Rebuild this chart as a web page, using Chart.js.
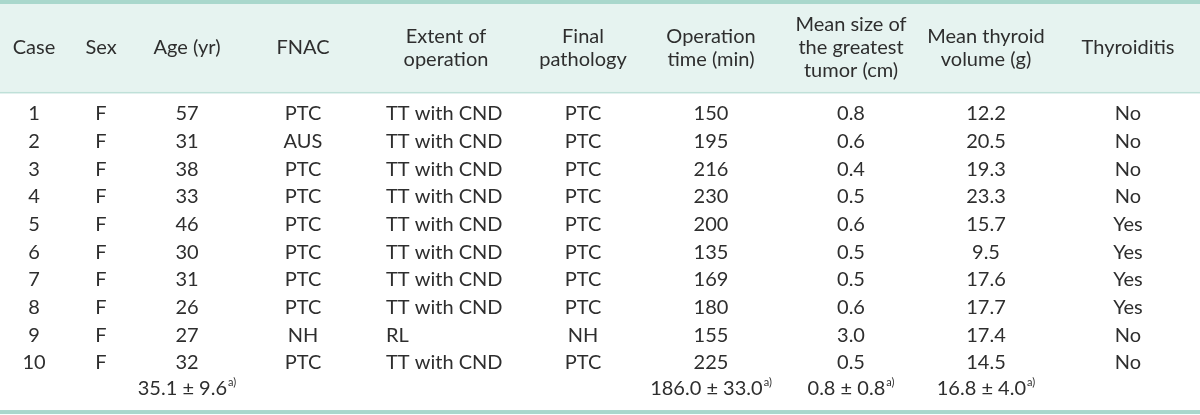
<!DOCTYPE html>
<html>
<head>
<meta charset="utf-8">
<script src="https://cdn.jsdelivr.net/npm/chart.js@4"></script>
<style>
  html, body { margin: 0; padding: 0; background: #fff; }
  canvas { display: block; }
</style>
</head>
<body>
<canvas id="myChart" width="1200" height="415"></canvas>
<script>
// table data
const headers = [
  ['Case'], ['Sex'], ['Age (yr)'], ['FNAC'], ['Extent of', 'operation'],
  ['Final', 'pathology'], ['Operation', 'time (min)'],
  ['Mean size of', 'the greatest', 'tumor (cm)'], ['Mean thyroid', 'volume (g)'], ['Thyroiditis']
]
const cases = ['1', '2', '3', '4', '5', '6', '7', '8', '9', '10']
const sex = ['F', 'F', 'F', 'F', 'F', 'F', 'F', 'F', 'F', 'F']
const age = [57, 31, 38, 33, 46, 30, 31, 26, 27, 32]
const fnac = ['PTC', 'AUS', 'PTC', 'PTC', 'PTC', 'PTC', 'PTC', 'PTC', 'NH', 'PTC']
const extent = ['TT with CND', 'TT with CND', 'TT with CND', 'TT with CND', 'TT with CND',
  'TT with CND', 'TT with CND', 'TT with CND', 'RL', 'TT with CND']
const finalPathology = ['PTC', 'PTC', 'PTC', 'PTC', 'PTC', 'PTC', 'PTC', 'PTC', 'NH', 'PTC']
const opTime = [150, 195, 216, 230, 200, 135, 169, 180, 155, 225]
const tumorSize = [0.8, 0.6, 0.4, 0.5, 0.6, 0.5, 0.5, 0.6, 3.0, 0.5]
const thyroidVolume = [12.2, 20.5, 19.3, 23.3, 15.7, 9.5, 17.6, 17.7, 17.4, 14.5]
const thyroiditis = ['No', 'No', 'No', 'No', 'Yes', 'Yes', 'Yes', 'Yes', 'No', 'No']
// mean ± SD row (null = empty cell)
const summary = [null, null, '35.1 ± 9.6', null, null, null, '186.0 ± 33.0', '0.8 ± 0.8', '16.8 ± 4.0', null]
const summaryNote = 'a)'

// layout (scale units)
const colX = [34, 101, 187, 303, 446, 583, 711, 851, 986, 1128]
const extentLeft = 386
const headerMid = -1.384
const headerStep = 0.83
const headerBottom = 0.24
const summaryRow = 10.94
const bottomLine = 11.7

const fmt1 = v => v.toFixed(1)
const columns = [
  cases, sex, age.map(String), fnac, extent, finalPathology,
  opTime.map(String), tumorSize.map(fmt1), thyroidVolume.map(fmt1), thyroiditis
]

const FONT = 'Lato, "Open Sans", sans-serif'
const SIZE = 20
const TEXT = '#2e2e2e'

const datasets = columns.map((col, c) => {
  const x = c === 4 ? extentLeft : colX[c]
  const pts = col.map((t, r) => ({ x: x, y: r + 1, text: t }))
  if (summary[c]) pts.push({ x: colX[c], y: summaryRow, text: summary[c], note: summaryNote })
  return {
    label: headers[c].join(' '),
    data: pts,
    align: c === 4 ? 'left' : 'center',
    pointRadius: 0,
    pointHoverRadius: 0
  }
})

const tablePlugin = {
  id: 'table',
  beforeDatasetsDraw(chart) {
    const { ctx, chartArea, scales: { y } } = chart
    const top = y.getPixelForValue(y.min)
    const hb = y.getPixelForValue(headerBottom)
    const bl = y.getPixelForValue(bottomLine)
    ctx.save()
    ctx.fillStyle = '#e6f3f0'
    ctx.fillRect(chartArea.left, top, chartArea.width, hb - top)
    ctx.fillStyle = '#a9d7cc'
    ctx.fillRect(chartArea.left, top, chartArea.width, 4)
    ctx.fillRect(chartArea.left, bl, chartArea.width, 4)
    ctx.fillStyle = '#bfe0d8'
    ctx.fillRect(chartArea.left, hb - 1, chartArea.width, 1.5)
    ctx.restore()
  },
  afterDatasetsDraw(chart) {
    const { ctx, scales: { x, y } } = chart
    const big = SIZE + 'px ' + FONT
    const small = '11px ' + FONT
    ctx.save()
    ctx.fillStyle = TEXT
    ctx.textBaseline = 'middle'
    ctx.font = big
    ctx.textAlign = 'center'
    // header cells
    headers.forEach((lines, c) => {
      lines.forEach((line, i) => {
        const v = headerMid + (i - (lines.length - 1) / 2) * headerStep
        ctx.fillText(line, x.getPixelForValue(colX[c]), y.getPixelForValue(v))
      })
    })
    // body cells
    chart.data.datasets.forEach((ds, di) => {
      const meta = chart.getDatasetMeta(di)
      meta.data.forEach((el, j) => {
        const p = ds.data[j]
        ctx.font = big
        if (p.note) {
          const w = ctx.measureText(p.text).width
          ctx.font = small
          const wn = ctx.measureText(p.note).width
          const left = el.x - (w + wn + 1) / 2
          ctx.textAlign = 'left'
          ctx.font = big
          ctx.fillText(p.text, left, el.y)
          ctx.font = small
          ctx.fillText(p.note, left + w + 1, el.y - 7)
        } else {
          ctx.textAlign = ds.align
          ctx.fillText(p.text, el.x, el.y)
        }
      })
    })
    ctx.restore()
  }
}

new Chart(document.getElementById('myChart'), {
  type: 'scatter',
  data: { datasets: datasets },
  options: {
    responsive: false,
    animation: false,
    layout: { padding: 0 },
    plugins: { legend: { display: false }, tooltip: { enabled: false } },
    events: [],
    scales: {
      x: { type: 'linear', min: 0, max: 1200, display: false },
      y: { type: 'linear', min: -3.119, max: 11.879, reverse: true, display: false }
    }
  },
  plugins: [tablePlugin]
})
</script>
</body>
</html>
